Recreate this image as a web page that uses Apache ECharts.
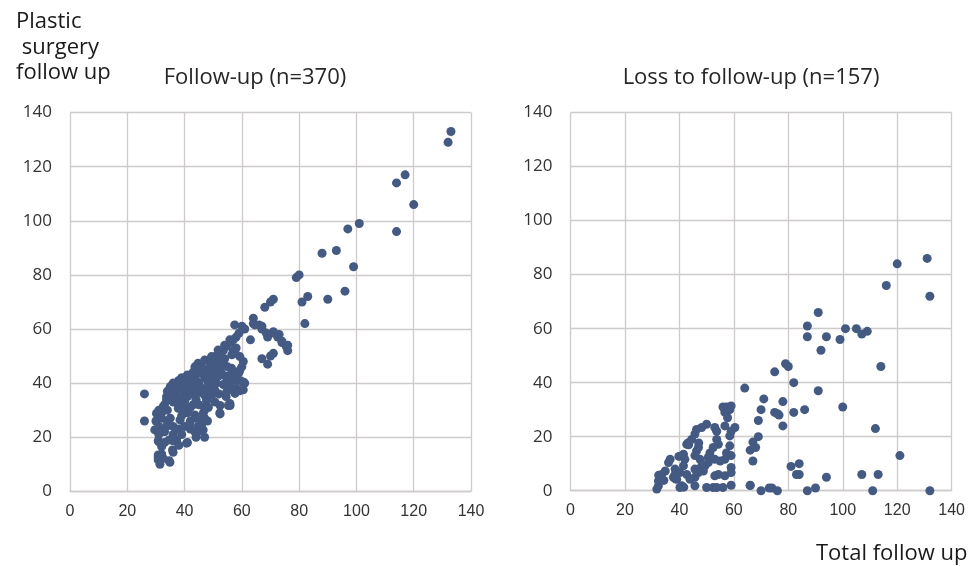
<!DOCTYPE html>
<html><head><meta charset="utf-8">
<script src="https://cdn.jsdelivr.net/npm/echarts@6/dist/echarts.min.js"></script>
<style>html,body{margin:0;padding:0;background:#fff}#c{width:968px;height:566px}</style>
</head><body><div id="c"></div>
<script>
// Titles and axis labels
const titleLeft = 'Follow-up (n=370)';
const titleRight = 'Loss to follow-up (n=157)';
const yAxisName = 'Plastic\n surgery\nfollow up';
const xAxisName = 'Total follow up';
const axisMin = 0, axisMax = 140, axisStep = 20;

// [total follow up, plastic surgery follow up]
const followUp = [
 [133,133],[132,129],[117,117],[114,114],[120,106],[114,96],[101,99],[97,97],[88,88],[93,89],[99,83],
 [79,79],[80,80],[83,72],[81,70],[90,71],[96,74],[82,62],
 [68,68],[70,70],[71,71],[64,64],[64,62],[63,56],[67,61],[69,57],[71,59],[73,58],[74,55],[76,54],[76,52],
 [71,51],[70,50],[67,49],[69,47],
 [64.5,61.5],[66,61.5],[67,60],[68.5,58.5],[71,58.5],[72.5,57],[74,55.5],[75.5,53.5],
 [57.5,61.5],[60,61],[61,60],[59,58.5],[58,57],[57,56],[56,55],[54.5,53.5],[53.5,52],[52.5,51],[51,50],
 [57,52],[58,53],[57.5,51],[56.5,50.5],[60.5,48],[60,46],[59,44],[50,49],[51.5,48],[53.5,46.5],[49.5,46],
 [51,45],[53,43.5],[54.5,42.5],[56,41],[58,41],[60,40.5],[60.5,37.5],[58,38],[56,38.5],[53.5,39.5],[51,40],
 [50,42],[52,36],[54.5,35],[49.5,35.5],
 [55.8,56],[54,54],[51.7,52.2],[57.6,51.6],[59.3,49.8],[49.4,49.8],[47,48.5],[44.7,47.3],[50.6,47.3],
 [53.5,47.3],[56.4,45.5],[59.3,44.8],[48.2,44.8],[46,43.6],[43.6,42.4],[51.7,42.4],[54.7,41.8],[41.3,41.1],
 [39,40.5],[36.6,38.7],[35,36.8],[33.7,35],[40,37.4],[44.7,38.7],[48.2,39.3],[50.6,37.4],[42.4,36.2],
 [47,35.6],[37.8,35],[43.6,46],
 [52.3,29],[46.5,22.7],[47,27],[47,30],[55.8,32.5],[50.6,33],[47.7,33.8],[57.6,36.2],[54.7,36.8],[57,42.4],
 [48.8,37.4],[46.5,36.2],[52.3,44.2],[48.8,43.6],[56.4,44.8],[61,40],[59.3,41],
 [26,36],[26,26],[29.6,22.7],[31,18.3],[32,16.5],[30.8,13.4],[30.8,11.6],[32.5,12.2],[34.6,11.3],[35.8,15.3],
 [34.6,19],[37.2,19],[41,18],[41.8,25],[44.7,24],[43.6,22],[46,26.4],[43.6,28.2],[30.2,28.8],[32.5,31.3],
 [33.7,33.8],[36,36.2],[35,38.7],[37.2,40],[39.5,35],[41.3,37.4],[44.2,36.2],[47,31.3],[46.5,28.8],[43,32],
 [40,30],[37.8,30.7],[35,27],[38.4,26.4],[32,27],[33.7,24],
 [30.8,18.7],[32,13.8],[30.8,12.6],[31.4,10],[34.9,10.7],[36,14.4],[36,18.7],[40.7,17.8],[45.4,22.4],
 [46,24.7],[52.4,28.6],[55.9,31.7],[52.4,31.7],[48.3,31],[47.7,33.5],[58.2,42],[60.6,40.3],[59.4,37.2],
 [55.9,38.4],[55.3,31.7],
 [34,30],[36,33],[38,32],[40,33],[42,31],[44,34],[45,32],[39,28],[41,29],[36,24],[38,23],[40,24],[42,26],
 [44,27],[35,34],[37,37],[39,38],[41,35],[43,39],[45,40],[46,38],[47,42],[45,45],[43,44],[41,43],[39,42],
 [38,41],[36,40],[34,37],[33,32],[31,30],[32,29],[34,26],[48,41],[49,40],[50,44],[52,47],[54,49],[55,46],
 [53,48],[49,47],[46,46],[44,41],[42,40],[40,39],[37,34],[48,26],[47,20],[44,20],[42,23],[39,21],[33,22],
 [31,24],[30,26],[31,21],[33,18],[36,21],[38,17]
];

const lossToFollowUp = [
 [131,86],[120,84],[116,76],[132,72],[91,66],[87,61],[87,57],[94,57],[92,52],[101,60],[105,60],[107,58],
 [109,59],[99,56],[114,46],[79,47],[80,46],[75,44],[82,40],[64,38],[91,37],[71,34],[78,33],[70,30],[75,29],
 [76.6,28],[76,28.5],[82,29],[86,30],[100,31],[69,26],[78,24],[112,23],[69,20],[67,18],[66,15],[68,16],
 [67,11],[121,13],[81,9],[84,10],[83,6],[84,6],[94,5],[107,6],[113,6],[66,2],[70,0],[73,1],[74,1],[76,0],
 [87,0],[90,1],[111,0],[132,0],
 [56,31],[57.3,31],[58.5,30],[59,31.4],[56.7,29],[57.7,27],[60.4,23.4],[59,22],[56.7,24],[53,23.4],
 [53.7,22],[50,24.6],[48.2,23.4],[46.3,22.7],[45.7,21],[44.5,19],[43.3,17.8],[42.7,17.2],[53.7,19],
 [54.3,17.2],[52.4,16],[51.2,14],[50.6,12.3],[58.5,20.3],[58.5,16.6],[57.3,14],[59,13],[56.7,11.6],
 [55,11],[53,11.6],[47,16],[46.3,14.7],[45.7,13],[47.6,11.6],[48.2,9.2],[48.8,7.3],[41.5,13.5],[42,11.6],
 [41.5,9.2],[40.2,6.7],[42.7,6],[36.6,11.6],[36,10.4],[34.8,7.3],[33.5,6],[38.4,6],[37.8,5],[32.3,3.6],
 [32.3,1.8],[31.7,0.6],[40.2,1.2],[40.9,1.8],[45.7,1.8],[50,1.2],[52.4,1.2],[53.7,1.2],[56,1.2],[59,2],
 [53,5.5],[54.3,6],[56.7,5.5],[45.7,5],[47,6.7],[45.7,8],[49.4,9.2],[50.6,10.4],[38.4,8],[39,4.2],
 [43.9,4.2],[59,8.6],[59,6.7],
 [32.4,5.7],[34.3,3.8],[39.8,12.7],[43.4,17],[47.1,17.7],[41.6,1.3],[57.4,30.4],[66,1.9],[38.5,4.4]
];

const dotColor = '#445a82';
const gridColor = '#cfcbcb';
const textColor = '#333333';

function xAxis(gi){
  return {gridIndex:gi, type:'value', min:axisMin, max:axisMax, interval:axisStep,
    axisLine:{show:true, lineStyle:{color:gridColor, width:1.3}}, axisTick:{show:false},
    axisLabel:{color:textColor, fontFamily:'Liberation Sans Narrow, Arial Narrow, sans-serif', fontSize:16, margin:12},
    splitLine:{show:true, lineStyle:{color:gridColor, width:1.3}}};
}
function yAxis(gi){
  return {gridIndex:gi, type:'value', min:axisMin, max:axisMax, interval:axisStep,
    axisLine:{show:false}, axisTick:{show:false},
    axisLabel:{color:textColor, fontFamily:'Open Sans', fontSize:17, margin:18},
    splitLine:{show:true, lineStyle:{color:gridColor, width:1.3}}};
}

const chart = echarts.init(document.getElementById('c'), null, {renderer:'canvas'});
chart.setOption({
  animation:false,
  backgroundColor:'#fff',
  title:[
    {text:titleLeft, left:250, top:62, textAlign:'center', textStyle:{fontFamily:'Open Sans', fontSize:22, fontWeight:'normal', color:'#262626'}},
    {text:titleRight, left:746, top:62, textAlign:'center', textStyle:{fontFamily:'Open Sans', fontSize:22, fontWeight:'normal', color:'#262626'}},
    {text:yAxisName, left:11, top:4, textStyle:{fontFamily:'Open Sans', fontSize:22, fontWeight:'normal', color:'#1a1a1a', lineHeight:25.5}},
    {text:xAxisName, left:811, top:538, textStyle:{fontFamily:'Open Sans', fontSize:22, fontWeight:'normal', color:'#1a1a1a'}}
  ],
  grid:[
    {left:70, top:112.6, width:401, height:378.7},
    {left:570.5, top:112.6, width:382.8, height:378.1}
  ],
  xAxis:[xAxis(0), xAxis(1)],
  yAxis:[yAxis(0), yAxis(1)],
  series:[
    {type:'scatter', xAxisIndex:0, yAxisIndex:0, data:followUp, symbolSize:9, itemStyle:{color:dotColor, opacity:1}},
    {type:'scatter', xAxisIndex:1, yAxisIndex:1, data:lossToFollowUp, symbolSize:9, itemStyle:{color:dotColor, opacity:1}}
  ]
});
</script>
</body></html>
